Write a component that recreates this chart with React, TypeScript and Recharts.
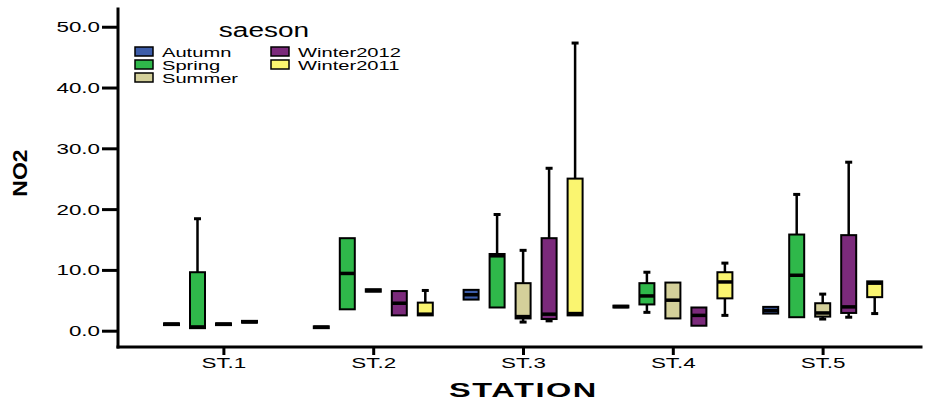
import { ComposedChart, Bar, XAxis, YAxis, Legend } from "recharts";

// NO2 box statistics per station: [min, q1, median, q3, max]
const stations = ["ST.1", "ST.2", "ST.3", "ST.4", "ST.5"];
const seasons = ["Autumn", "Spring", "Summer", "Winter2012", "Winter2011"];
const seasonColors = ["#3d5da9", "#2fb84a", "#d4d09a", "#7b2a7b", "#faf570"];

const autumnNO2 = [
  [1.0, 1.0, 1.15, 1.3, 1.3],
  [0.5, 0.5, 0.65, 0.8, 0.8],
  [5.2, 5.2, 6.0, 6.8, 6.8],
  [3.9, 3.9, 4.05, 4.2, 4.2],
  [2.9, 2.9, 3.4, 4.0, 4.0],
];
const springNO2 = [
  [0.5, 0.5, 0.7, 9.7, 18.5],
  [3.6, 3.6, 9.5, 15.3, 15.3],
  [3.9, 3.9, 12.4, 12.7, 19.2],
  [3.1, 4.4, 5.8, 7.9, 9.7],
  [2.3, 2.3, 9.2, 15.9, 22.5],
];
const summerNO2 = [
  [1.0, 1.0, 1.15, 1.3, 1.3],
  [6.5, 6.5, 6.7, 6.9, 6.9],
  [1.5, 2.1, 2.4, 7.9, 13.3],
  [2.1, 2.1, 5.1, 8.0, 8.0],
  [2.0, 2.4, 3.0, 4.6, 6.1],
];
const winter2012NO2 = [
  [1.4, 1.4, 1.55, 1.7, 1.7],
  [2.6, 2.6, 4.6, 6.6, 6.6],
  [1.7, 2.0, 2.8, 15.3, 26.8],
  [0.9, 0.9, 2.6, 3.9, 3.9],
  [2.3, 3.0, 4.0, 15.8, 27.8],
];
const winter2011NO2 = [
  null,
  [2.6, 2.6, 2.8, 4.7, 6.7],
  [2.6, 2.6, 2.9, 25.1, 47.4],
  [2.6, 5.4, 8.1, 9.7, 11.2],
  [2.9, 5.6, 7.9, 8.2, 8.2],
];

const yTicks = [0, 10, 20, 30, 40, 50];

const seasonStats = [autumnNO2, springNO2, summerNO2, winter2012NO2, winter2011NO2];

const rows = stations.map((station, i) => {
  const row: Record<string, any> = { station };
  seasons.forEach((s, k) => {
    const st = seasonStats[k][i];
    row[s] = st ? [st[0], st[4]] : null;
    row[s + "_stats"] = st;
  });
  return row;
});

const FONT = "'Liberation Sans', Arial, sans-serif";

// Bar spans min..max; inner values are placed proportionally within it
const boxShape = (season: string, fill: string) => (props: any) => {
  const { x, y, width, height, payload } = props;
  const st = payload?.[season + "_stats"];
  if (!st || x == null) return <g />;
  const [mn, q1, med, q3, mx] = st;
  const top = Math.min(y, y + height);
  const bottom = Math.max(y, y + height);
  const py = (v: number) => (mx === mn ? top : top + ((mx - v) / (mx - mn)) * (bottom - top));
  const cx = x + width / 2;
  const cap = 3.5;
  return (
    <g>
      {mx > q3 && (
        <g stroke="#000" strokeWidth={2.5}>
          <line x1={cx} x2={cx} y1={py(mx)} y2={py(q3)} />
          <line x1={cx - cap} x2={cx + cap} y1={py(mx)} y2={py(mx)} strokeWidth={3} />
        </g>
      )}
      {mn < q1 && (
        <g stroke="#000" strokeWidth={2.5}>
          <line x1={cx} x2={cx} y1={py(q1)} y2={py(mn)} />
          <line x1={cx - cap} x2={cx + cap} y1={py(mn)} y2={py(mn)} strokeWidth={3} />
        </g>
      )}
      <rect
        x={x}
        y={py(q3)}
        width={width}
        height={Math.max(py(q1) - py(q3), 0.5)}
        fill={fill}
        stroke="#000"
        strokeWidth={2}
      />
      <line x1={x} x2={x + width} y1={py(med)} y2={py(med)} stroke="#000" strokeWidth={3.5} />
    </g>
  );
};

const YTick = ({ x, y, payload }: any) => (
  <text
    transform={`translate(${x},${y + 5}) scale(1.6,1)`}
    textAnchor="end"
    fontFamily={FONT}
    fontSize={14}
    fill="#000"
  >
    {Number(payload.value).toFixed(1)}
  </text>
);

const XTick = ({ x, y, payload }: any) => (
  <text
    transform={`translate(${x},${y + 11}) scale(1.6,1)`}
    textAnchor="middle"
    fontFamily={FONT}
    fontSize={14}
    fill="#000"
  >
    {payload.value}
  </text>
);

const SeasonLegend = ({ payload }: any) => {
  // keep the legend in series order rather than alphabetical
  const items = [...(payload || [])].sort(
    (a: any, b: any) => seasons.indexOf(a.value) - seasons.indexOf(b.value)
  );
  return (
    <svg width={420} height={90}>
      <text
        transform="translate(264,37) scale(1.4,1)"
        textAnchor="middle"
        fontFamily={FONT}
        fontSize={20}
        fill="#000"
      >
        saeson
      </text>
      {items.map((it: any, i: number) => {
        const col = i < 3 ? 0 : 1;
        const row = i < 3 ? i : i - 3;
        const sx = col === 0 ? 135 : 271;
        const sy = 47 + row * 13;
        return (
          <g key={it.value}>
            <rect x={sx} y={sy} width={18} height={9} fill={it.color} stroke="#000" strokeWidth={1.5} />
            <text
              transform={`translate(${sx + 27},${sy + 9.5}) scale(1.55,1)`}
              fontFamily={FONT}
              fontSize={13}
              fill="#000"
            >
              {it.value}
            </text>
          </g>
        );
      })}
    </svg>
  );
};

const axisLine = { stroke: "#000", strokeWidth: 3, strokeLinecap: "square" as const };

export default function App() {
  return (
    <div style={{ position: "absolute", left: 0, top: 0, width: 927, height: 402, background: "#fff" }}>
      <ComposedChart
        width={927}
        height={402}
        data={rows}
        margin={{ top: 9, right: 6, bottom: 0, left: 0 }}
        barSize={15}
        barGap={11}
      >
        <XAxis
          dataKey="station"
          height={55}
          padding={{ left: 31, right: 23 }}
          axisLine={axisLine}
          tickLine={{ stroke: "#000", strokeWidth: 3 }}
          tickSize={8}
          tickMargin={2}
          tick={<XTick />}
          label={{
            content: (p: any) => {
              const vb = p.viewBox;
              return (
                <text
                  transform={`translate(${vb.x + vb.width / 2 + 4},${vb.y + 50}) scale(1.55,1)`}
                  textAnchor="middle"
                  fontFamily={FONT}
                  fontSize={21}
                  fontWeight="bold"
                  letterSpacing={1}
                  fill="#000"
                >
                  STATION
                </text>
              );
            },
          }}
        />
        <XAxis
          xAxisId="top"
          dataKey="station"
          orientation="top"
          height={0}
          axisLine={axisLine}
          tick={false}
          tickLine={false}
        />
        <YAxis
          domain={[-2.6, 53]}
          ticks={yTicks}
          width={118}
          axisLine={axisLine}
          tickLine={{ stroke: "#000", strokeWidth: 3 }}
          tickSize={16}
          tickMargin={2}
          tick={<YTick />}
          label={{
            content: (p: any) => {
              const vb = p.viewBox;
              return (
                <text
                  transform={`translate(${27},${vb.y + vb.height / 2 - 5}) rotate(-90) scale(1.15,1)`}
                  textAnchor="middle"
                  fontFamily={FONT}
                  fontSize={20}
                  fontWeight="bold"
                  fill="#000"
                >
                  NO2
                </text>
              );
            },
          }}
        />
        <YAxis
          yAxisId="right"
          orientation="right"
          domain={[-2.6, 53]}
          width={0}
          axisLine={axisLine}
          tick={false}
          tickLine={false}
        />
        <Legend
          layout="horizontal"
          verticalAlign="middle"
          align="center"
          wrapperStyle={{ left: 0, top: 0, width: 420, height: 90 }}
          content={<SeasonLegend />}
        />
        {seasons.map((s, k) => (
          <Bar
            key={s}
            dataKey={s}
            name={s}
            fill={seasonColors[k]}
            isAnimationActive={false}
            shape={boxShape(s, seasonColors[k])}
          />
        ))}
      </ComposedChart>
    </div>
  );
}
